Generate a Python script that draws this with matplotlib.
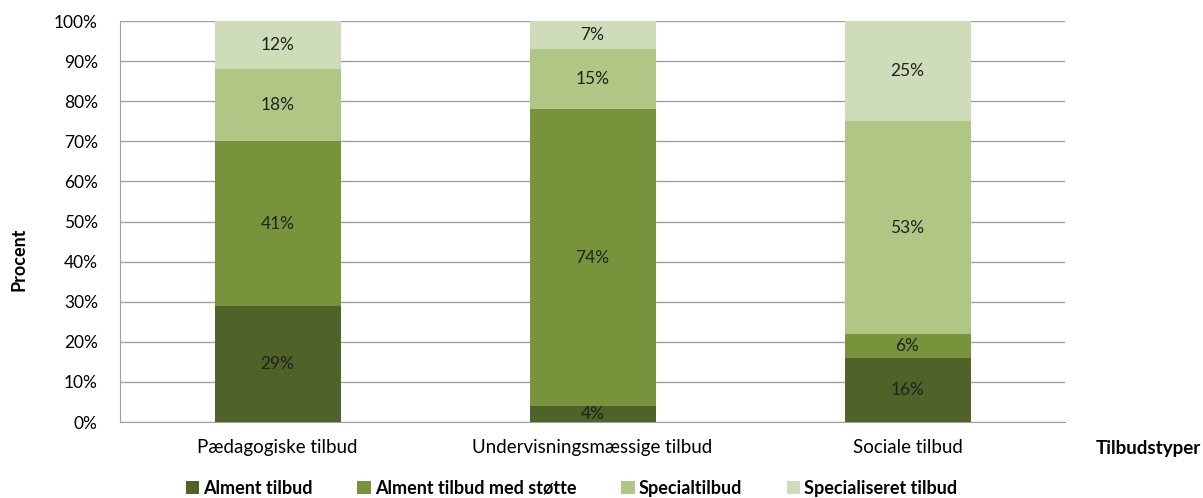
import numpy as np
import matplotlib.pyplot as plt

plt.rcParams['font.family'] = ['Lato', 'DejaVu Sans']

# Data: share (%) per offer type
categories = ["Pædagogiske tilbud", "Undervisningsmæssige tilbud", "Sociale tilbud"]
series_names = ["Alment tilbud", "Alment tilbud med støtte", "Specialtilbud", "Specialiseret tilbud"]
alment = [29, 4, 16]
alment_stotte = [41, 74, 6]
special = [18, 15, 53]
specialiseret = [12, 7, 25]
colors = ["#4F6228", "#77933C", "#AFC685", "#CFDCB9"]

fig = plt.figure(figsize=(12.03, 4.98), dpi=100)
ax = fig.add_axes([0.0998, 0.1526, 0.7855, 0.8052])

x = np.arange(len(categories))
bottom = np.zeros(len(categories))
for name, vals, col in zip(series_names, [alment, alment_stotte, special, specialiseret], colors):
    vals = np.array(vals, dtype=float)
    ax.bar(x, vals, 0.4, bottom=bottom, color=col, label=name, zorder=3)
    for xi, b, v in zip(x, bottom, vals):
        ax.text(xi, b + v / 2, f"{int(v)}%", ha="center", va="center", fontsize=12.5, color="#222222", zorder=4)
    bottom += vals

ax.set_xlim(-0.5, 2.5)
ax.set_ylim(0, 100)
ax.set_yticks(np.arange(0, 101, 10))
ax.set_yticklabels([f"{t}%" for t in range(0, 101, 10)], fontsize=12.5)
ax.set_xticks(x)
ax.set_xticklabels(categories, fontsize=13.5)
ax.tick_params(axis="x", length=0, pad=12)
ax.tick_params(axis="y", length=0, pad=16)
ax.grid(axis="y", color="#A0A0A0", linewidth=1, zorder=0)
for s in ["top", "right"]:
    ax.spines[s].set_visible(False)
for s in ["left", "bottom"]:
    ax.spines[s].set_color("#A0A0A0")

fig.text(0.016, 0.48, "Procent", rotation=90, fontsize=13, fontweight="bold", ha="center", va="center")
fig.text(0.955, 0.099, "Tilbudstyper", fontsize=13.5, fontweight="bold", ha="center", va="center")

fig.legend(*ax.get_legend_handles_labels(), loc="center", bbox_to_anchor=(0.475, 0.02), ncol=4, frameon=False,
           handlelength=0.75, handleheight=0.75, handletextpad=0.2, columnspacing=2.5,
           borderpad=0, prop={"weight": "bold", "size": 13})

fig.savefig("out.png", dpi=100)
